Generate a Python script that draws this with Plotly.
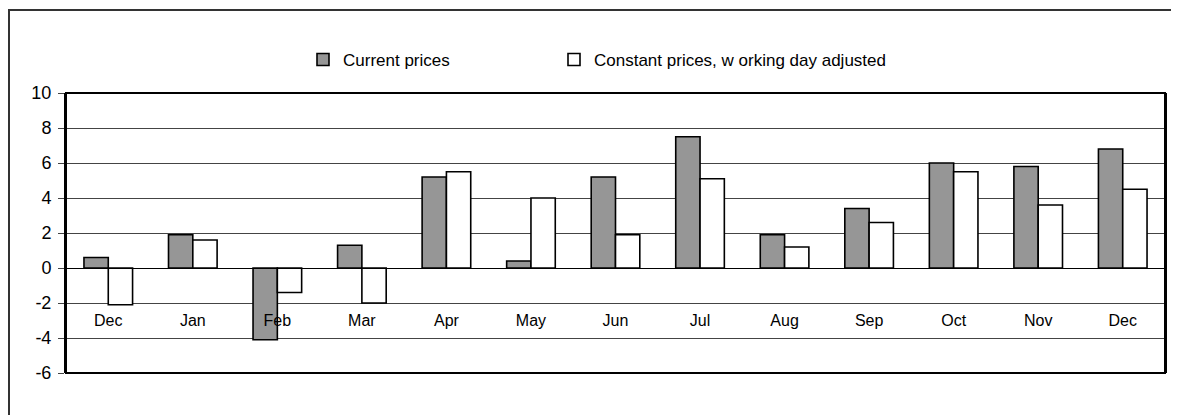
import plotly.graph_objects as go

months = ["Dec", "Jan", "Feb", "Mar", "Apr", "May", "Jun", "Jul", "Aug", "Sep", "Oct", "Nov", "Dec"]
current_prices = [0.6, 1.9, -4.1, 1.3, 5.2, 0.4, 5.2, 7.5, 1.9, 3.4, 6.0, 5.8, 6.8]
constant_prices = [-2.1, 1.6, -1.4, -2.0, 5.5, 4.0, 1.9, 5.1, 1.2, 2.6, 5.5, 3.6, 4.5]
y_ticks = [-6, -4, -2, 0, 2, 4, 6, 8, 10]

x_idx = list(range(len(months)))
FONT = "Liberation Sans, Arial, sans-serif"

# page offset of the figure inside the browser window
OX, OY = 8, 8
W, H = 1179, 415
ML, MT = 66 - OX, 93 - OY
PW, PH = 1099, 280
MR, MB = W - ML - PW, H - MT - PH


def px_x(px):
    return (px - OX - ML) / PW


def px_y(py):
    return (MT + PH - (py - OY)) / PH


fig = go.Figure()
fig.add_trace(go.Bar(
    x=x_idx, y=current_prices, name="Current prices", legend="legend",
    marker=dict(color="#969696", line=dict(color="black", width=1.6)),
))
fig.add_trace(go.Bar(
    x=x_idx, y=constant_prices, name="Constant prices, w orking day adjusted", legend="legend2",
    marker=dict(color="white", line=dict(color="black", width=1.6)),
))

y_min, y_max = -6, 10
zero_pos = (0 - y_min) / (y_max - y_min)

legend_common = dict(
    orientation="h", yanchor="middle", xanchor="left",
    font=dict(size=17, family=FONT, color="black"),
    bgcolor="rgba(0,0,0,0)", borderwidth=0,
)

fig.update_layout(
    width=W, height=H,
    margin=dict(l=ML, r=MR, t=MT, b=MB, autoexpand=False),
    paper_bgcolor="white", plot_bgcolor="white",
    barmode="group", bargap=0.425, bargroupgap=0,
    font=dict(family=FONT, color="black"),
    showlegend=True,
    legend=dict(x=px_x(303), y=px_y(60), **legend_common),
    legend2=dict(x=px_x(554), y=px_y(60), **legend_common),
    xaxis=dict(
        type="linear", range=[-0.5, len(months) - 0.5],
        tickmode="array", tickvals=x_idx, ticktext=months,
        anchor="free", position=zero_pos, automargin=False,
        showline=True, linecolor="black", linewidth=1,
        showgrid=False, zeroline=False,
        ticks="", tickfont=dict(size=16, family=FONT, color="black"),
        ticklabelstandoff=38,
    ),
    xaxis2=dict(
        type="linear", range=[-0.5, len(months) - 0.5], overlaying="x",
        anchor="free", position=zero_pos, automargin=False,
        tickmode="array", tickvals=[i + 0.5 for i in x_idx[:-1]],
        ticks="outside", ticklen=9, tickcolor="#333", tickwidth=1,
        showticklabels=False, showgrid=False, zeroline=False, showline=False,
    ),
    yaxis=dict(
        range=[y_min, y_max], tickmode="array", tickvals=y_ticks,
        ticktext=[str(v) for v in y_ticks], automargin=False,
        showgrid=True, gridcolor="#444", gridwidth=1,
        zeroline=False,
        showline=True, linecolor="black", linewidth=2, mirror=True,
        ticks="outside", ticklen=6, tickcolor="#444", tickwidth=1,
        tickfont=dict(size=18, family=FONT, color="black"),
        ticklabelstandoff=3,
    ),
    shapes=[
        dict(type="rect", xref="x domain", yref="y domain", x0=0, x1=1, y0=0, y1=1,
             line=dict(color="black", width=2), fillcolor="rgba(0,0,0,0)", layer="above"),
        dict(type="rect", xref="paper", yref="paper",
             x0=px_x(9), x1=px_x(1300), y0=px_y(500), y1=px_y(10),
             line=dict(color="#333", width=2), fillcolor="rgba(0,0,0,0)", layer="below"),
    ],
)

fig.write_html("out.html")
